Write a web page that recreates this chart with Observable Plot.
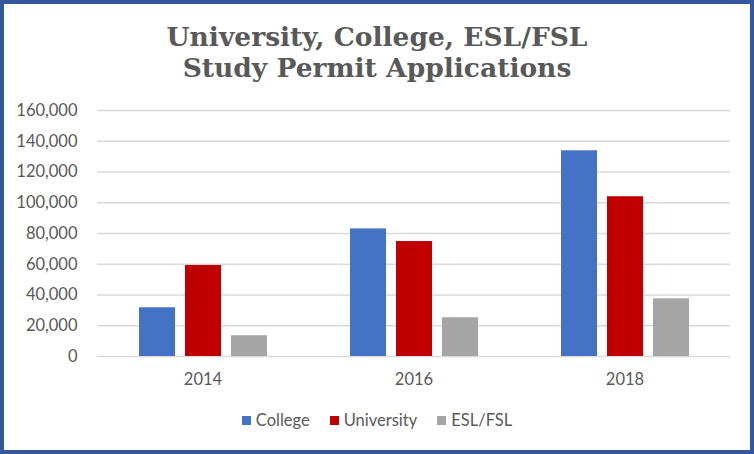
<!DOCTYPE html>
<html>
<head>
<meta charset="utf-8">
<script src="https://cdn.jsdelivr.net/npm/d3@7"></script>
<script src="https://cdn.jsdelivr.net/npm/@observablehq/plot@0.6"></script>
<style>
  html, body { margin: 0; padding: 0; background: #fff; }
  #wrap { position: relative; width: 754px; height: 454px; overflow: hidden; background: #fff; }
  #border { position: absolute; left: 0; top: 0; width: 754px; height: 454px; box-sizing: border-box; border: 4px solid #34589b; pointer-events: none; }
  .title { position: absolute; left: 0; width: 754px; text-align: center; font-family: "DejaVu Serif", serif; font-weight: bold; font-size: 26.5px; color: #595959; white-space: nowrap; line-height: 31px; }
  #chart { position: absolute; left: 0; top: 0; }
  #legend { position: absolute; left: 0; width: 754px; top: 410px; display: flex; justify-content: center; font-family: Lato, sans-serif; font-size: 16.5px; color: #595959; }
  .item { display: flex; align-items: center; margin: 0 10px; }
  .sw { width: 9px; height: 9px; margin-right: 5px; }
</style>
</head>
<body>
<div id="wrap">
  <div class="title" id="t1" style="top:21px">University, College, ESL/FSL</div>
  <div class="title" id="t2" style="top:52px">Study Permit Applications</div>
  <div id="chart"></div>
  <div id="legend"></div>
  <div id="border"></div>
</div>
<script>
const years = ["2014", "2016", "2018"];
const seriesNames = ["College", "University", "ESL/FSL"];
const college = [31700, 83000, 133800];
const university = [59200, 74800, 103900];
const esl = [13500, 25200, 37500];
const colors = ["#4472C4", "#C00000", "#A5A5A5"];
const yTicks = [0, 20000, 40000, 60000, 80000, 100000, 120000, 140000, 160000];

const seriesValues = [college, university, esl];
const data = years.flatMap((yr, i) => seriesNames.map((s, j) => ({year: yr, series: s, value: seriesValues[j][i]})));

const chart = Plot.plot({
  width: 754,
  height: 400,
  marginTop: 110,
  marginBottom: 44,
  marginLeft: 97,
  marginRight: 24,
  style: {fontFamily: "Lato, sans-serif", fontSize: "16.5px", color: "#595959", background: "transparent", overflow: "visible"},
  fx: {domain: years, padding: 0, label: null},
  x: {domain: seriesNames, paddingInner: 0.22, paddingOuter: 0.86, axis: null},
  y: {domain: [0, 160000], axis: null},
  color: {domain: seriesNames, range: colors},
  marks: [
    Plot.gridY(yTicks, {stroke: "#d9d9d9", strokeOpacity: 1, strokeWidth: 1.5}),
    Plot.barY(data, {fx: "year", x: "series", y: "value", fill: "series"}),
    Plot.axisY(yTicks, {tickSize: 0, tickPadding: 20, tickFormat: d3.format(","), label: null}),
    Plot.axisFx({anchor: "bottom", tickSize: 0, tickPadding: 17, label: null})
  ]
});
document.getElementById("chart").appendChild(chart);

const legend = document.getElementById("legend");
seriesNames.forEach((s, i) => {
  const it = document.createElement("div");
  it.className = "item";
  const sw = document.createElement("div");
  sw.className = "sw";
  sw.style.background = colors[i];
  const tx = document.createElement("span");
  tx.textContent = s;
  it.appendChild(sw);
  it.appendChild(tx);
  legend.appendChild(it);
});
</script>
</body>
</html>
